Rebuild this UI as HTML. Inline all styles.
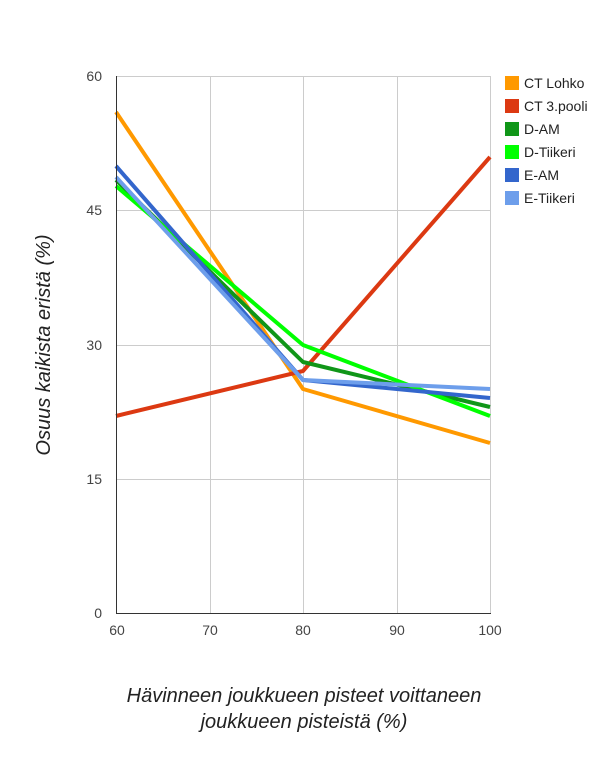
<!DOCTYPE html>
<html><head><meta charset="utf-8"><style>
html,body{margin:0;padding:0;background:#fff;}
svg{display:block;font-family:"Liberation Sans",Arial,sans-serif;}
</style></head><body>
<svg width="607" height="780" viewBox="0 0 607 780" xmlns="http://www.w3.org/2000/svg">
<rect width="607" height="780" fill="#fff"/>
<g stroke="#cccccc" stroke-width="1">
<line x1="116" y1="76.5" x2="490" y2="76.5"/>
<line x1="116" y1="210.5" x2="490" y2="210.5"/>
<line x1="116" y1="345.5" x2="490" y2="345.5"/>
<line x1="116" y1="479.5" x2="490" y2="479.5"/>
<line x1="210.5" y1="76" x2="210.5" y2="613"/>
<line x1="303.5" y1="76" x2="303.5" y2="613"/>
<line x1="397.5" y1="76" x2="397.5" y2="613"/>
<line x1="490.5" y1="76" x2="490.5" y2="613"/>
</g>
<g fill="none" stroke-width="4" stroke-linejoin="round">
<polyline stroke="#ff9900" points="116,112 303,389 490,443"/>
<polyline stroke="#dc3912" points="116,416 303,371 490,157"/>
<polyline stroke="#109618" points="116,180 303,362 490,407"/>
<polyline stroke="#00ff00" points="116,186 303,345 490,416"/>
<polyline stroke="#3366cc" points="116,166 303,380 490,398"/>
<polyline stroke="#6d9eeb" points="116,177 303,380 490,389"/>
</g>
<line x1="116.5" y1="76" x2="116.5" y2="613" stroke="#333" stroke-width="1"/>
<line x1="116" y1="613.5" x2="491" y2="613.5" stroke="#333" stroke-width="1"/>
<g font-size="14" fill="#444" text-anchor="end">
<text x="102" y="81">60</text>
<text x="102" y="215">45</text>
<text x="102" y="350">30</text>
<text x="102" y="484">15</text>
<text x="102" y="618">0</text>
</g>
<g font-size="14" fill="#444" text-anchor="middle">
<text x="117" y="635">60</text>
<text x="210" y="635">70</text>
<text x="303" y="635">80</text>
<text x="397" y="635">90</text>
<text x="490" y="635">100</text>
</g>
<g font-size="14" fill="#222">
<rect x="505" y="76" width="14" height="14" fill="#ff9900"/><text x="524" y="88">CT Lohko</text>
<rect x="505" y="99" width="14" height="14" fill="#dc3912"/><text x="524" y="111">CT 3.pooli</text>
<rect x="505" y="122" width="14" height="14" fill="#109618"/><text x="524" y="134">D-AM</text>
<rect x="505" y="145" width="14" height="14" fill="#00ff00"/><text x="524" y="157">D-Tiikeri</text>
<rect x="505" y="168" width="14" height="14" fill="#3366cc"/><text x="524" y="180">E-AM</text>
<rect x="505" y="191" width="14" height="14" fill="#6d9eeb"/><text x="524" y="203">E-Tiikeri</text>
</g>
<g font-size="20" font-style="italic" fill="#222" text-anchor="middle">
<text x="304" y="702">Hävinneen joukkueen pisteet voittaneen</text>
<text x="304" y="728">joukkueen pisteistä (%)</text>
<text transform="translate(50,345) rotate(-90)">Osuus kaikista eristä (%)</text>
</g>
</svg>
</body></html>
